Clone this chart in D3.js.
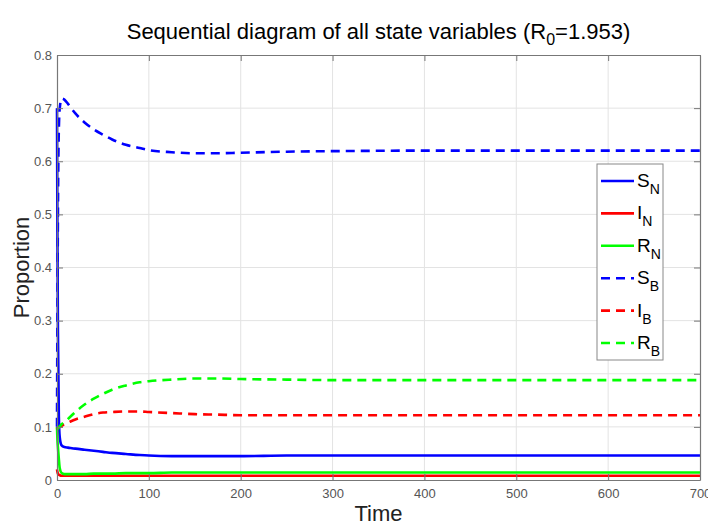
<!DOCTYPE html>
<html>
<head>
<meta charset="utf-8">
<script src="https://cdn.jsdelivr.net/npm/d3@7"></script>
<style>
  body { margin: 0; background: #fff; }
  text { font-family: "Liberation Sans", Arial, sans-serif; }
</style>
</head>
<body>
<svg width="708" height="527"></svg>
<script>
// time points
var times = [0, 0.5, 1, 2, 3, 5, 8, 12, 20, 30, 40, 50, 60, 75, 90, 100, 125, 150, 175, 200, 250, 300, 400, 500, 600, 700];

var sN = [0.70, 0.45, 0.28, 0.12, 0.08, 0.065, 0.062, 0.061, 0.059, 0.057, 0.055, 0.053, 0.051, 0.049, 0.047, 0.046, 0.045, 0.045, 0.045, 0.045, 0.046, 0.046, 0.046, 0.046, 0.046, 0.046];
var iN = [0.02, 0.015, 0.012, 0.010, 0.009, 0.008, 0.008, 0.008, 0.008, 0.008, 0.008, 0.008, 0.008, 0.008, 0.008, 0.008, 0.008, 0.008, 0.008, 0.008, 0.008, 0.008, 0.008, 0.008, 0.008, 0.008];
var rN = [0.10, 0.075, 0.062, 0.040, 0.022, 0.013, 0.011, 0.011, 0.011, 0.011, 0.012, 0.012, 0.012, 0.013, 0.013, 0.013, 0.014, 0.014, 0.014, 0.014, 0.014, 0.014, 0.014, 0.014, 0.014, 0.014];
var sB = [0.10, 0.32, 0.50, 0.66, 0.70, 0.718, 0.716, 0.708, 0.690, 0.673, 0.660, 0.650, 0.641, 0.631, 0.625, 0.621, 0.617, 0.615, 0.615, 0.616, 0.618, 0.619, 0.620, 0.620, 0.620, 0.620];
var iB = [0.095, 0.097, 0.098, 0.099, 0.100, 0.102, 0.105, 0.108, 0.114, 0.119, 0.124, 0.127, 0.128, 0.129, 0.129, 0.128, 0.126, 0.124, 0.123, 0.122, 0.122, 0.122, 0.122, 0.122, 0.122, 0.122];
var rB = [0.095, 0.096, 0.097, 0.099, 0.101, 0.105, 0.109, 0.115, 0.128, 0.142, 0.153, 0.162, 0.170, 0.178, 0.184, 0.186, 0.189, 0.191, 0.191, 0.190, 0.189, 0.188, 0.188, 0.188, 0.188, 0.188];

var seriesNames = [["S", "N"], ["I", "N"], ["R", "N"], ["S", "B"], ["I", "B"], ["R", "B"]];
var seriesValues = [sN, iN, rN, sB, iB, rB];
var seriesColors = ["#0000ff", "#ff0000", "#00ff00", "#0000ff", "#ff0000", "#00ff00"];
var seriesDashed = [false, false, false, true, true, true];

var xTicks = [0, 100, 200, 300, 400, 500, 600, 700];
var yTicks = [0, 0.1, 0.2, 0.3, 0.4, 0.5, 0.6, 0.7, 0.8];

var svg = d3.select("svg");
var margin = {top: 55, right: 8, bottom: 47, left: 57};
var width = 708 - margin.left - margin.right;
var height = 527 - margin.top - margin.bottom;
var g = svg.append("g").attr("transform", "translate(" + margin.left + "," + margin.top + ")");

var x = d3.scaleLinear().domain([0, 700]).range([0, width]);
var y = d3.scaleLinear().domain([0, 0.8]).range([height, 0]);

// grid
g.append("g").selectAll("line").data(xTicks.slice(1, -1)).enter().append("line")
    .attr("x1", d => x(d)).attr("x2", d => x(d)).attr("y1", 0).attr("y2", height)
    .attr("stroke", "#e3e3e3").attr("stroke-width", 1);
g.append("g").selectAll("line").data(yTicks.slice(1, -1)).enter().append("line")
    .attr("y1", d => y(d)).attr("y2", d => y(d)).attr("x1", 0).attr("x2", width)
    .attr("stroke", "#e3e3e3").attr("stroke-width", 1);

// lines
var line = d3.line().curve(d3.curveMonotoneX);
for (let i = 0; i < seriesValues.length; i++){
    var pts = times.map(function(t, j){ return [x(t), y(seriesValues[i][j])]; });
    g.append("path")
        .attr("d", line(pts))
        .attr("fill", "none")
        .attr("stroke", seriesColors[i])
        .attr("stroke-width", 2.6)
        .attr("stroke-dasharray", seriesDashed[i] ? "9,6" : null);
}

// axes (box with inward ticks on all sides)
function styleAxis(sel){
    sel.attr("font-size", 13).attr("font-family", "Liberation Sans, Arial, sans-serif");
    sel.select(".domain").attr("stroke", "#777").attr("stroke-width", 1.2);
    sel.selectAll(".tick line").attr("stroke", "#777");
    sel.selectAll(".tick text").attr("fill", "#555");
}
var fmt = function(d){ return d === 0 ? "0" : d3.format(".1f")(d); };

g.append("g").attr("transform", "translate(0," + height + ")")
    .call(d3.axisBottom(x).tickValues(xTicks).tickSizeInner(-6).tickSizeOuter(0).tickPadding(9).tickFormat(d3.format("d")))
    .call(styleAxis);
g.append("g")
    .call(d3.axisTop(x).tickValues(xTicks).tickSizeInner(-6).tickSizeOuter(0).tickFormat(""))
    .call(styleAxis);
g.append("g")
    .call(d3.axisLeft(y).tickValues(yTicks).tickSizeInner(-6).tickSizeOuter(0).tickPadding(5).tickFormat(fmt))
    .call(styleAxis);
g.append("g").attr("transform", "translate(" + width + ",0)")
    .call(d3.axisRight(y).tickValues(yTicks).tickSizeInner(-6).tickSizeOuter(0).tickFormat(""))
    .call(styleAxis);

// title
var title = svg.append("text")
    .attr("x", margin.left + width / 2).attr("y", 39)
    .attr("text-anchor", "middle").attr("fill", "#000").style("font-size", "22px");
title.append("tspan").text("Sequential diagram of all state variables (R");
title.append("tspan").attr("dy", 6).style("font-size", "16px").text("0");
title.append("tspan").attr("dy", -6).text("=1.953)");

// axis labels
svg.append("text").attr("x", margin.left + width / 2).attr("y", 521)
    .attr("text-anchor", "middle").attr("fill", "#222").style("font-size", "22px").text("Time");
svg.append("text").attr("transform", "translate(29," + (margin.top + height / 2) + ") rotate(-90)")
    .attr("text-anchor", "middle").attr("fill", "#222").style("font-size", "22px").text("Proportion");

// legend
var lg = svg.append("g").attr("transform", "translate(597,164)");
lg.append("rect").attr("width", 66).attr("height", 196)
    .attr("fill", "#fff").attr("stroke", "#888").attr("stroke-width", 1);
for (let i = 0; i < seriesNames.length; i++){
    var cy = 17 + i * 32.4;
    lg.append("line").attr("x1", 4).attr("x2", 37).attr("y1", cy).attr("y2", cy)
        .attr("stroke", seriesColors[i]).attr("stroke-width", 2.6)
        .attr("stroke-dasharray", seriesDashed[i] ? "9,6" : null);
    var t = lg.append("text").attr("x", 40).attr("y", cy + 6).attr("fill", "#000").style("font-size", "19px");
    t.append("tspan").text(seriesNames[i][0]);
    t.append("tspan").attr("dy", 7).style("font-size", "14px").text(seriesNames[i][1]);
}
</script>
</body>
</html>
